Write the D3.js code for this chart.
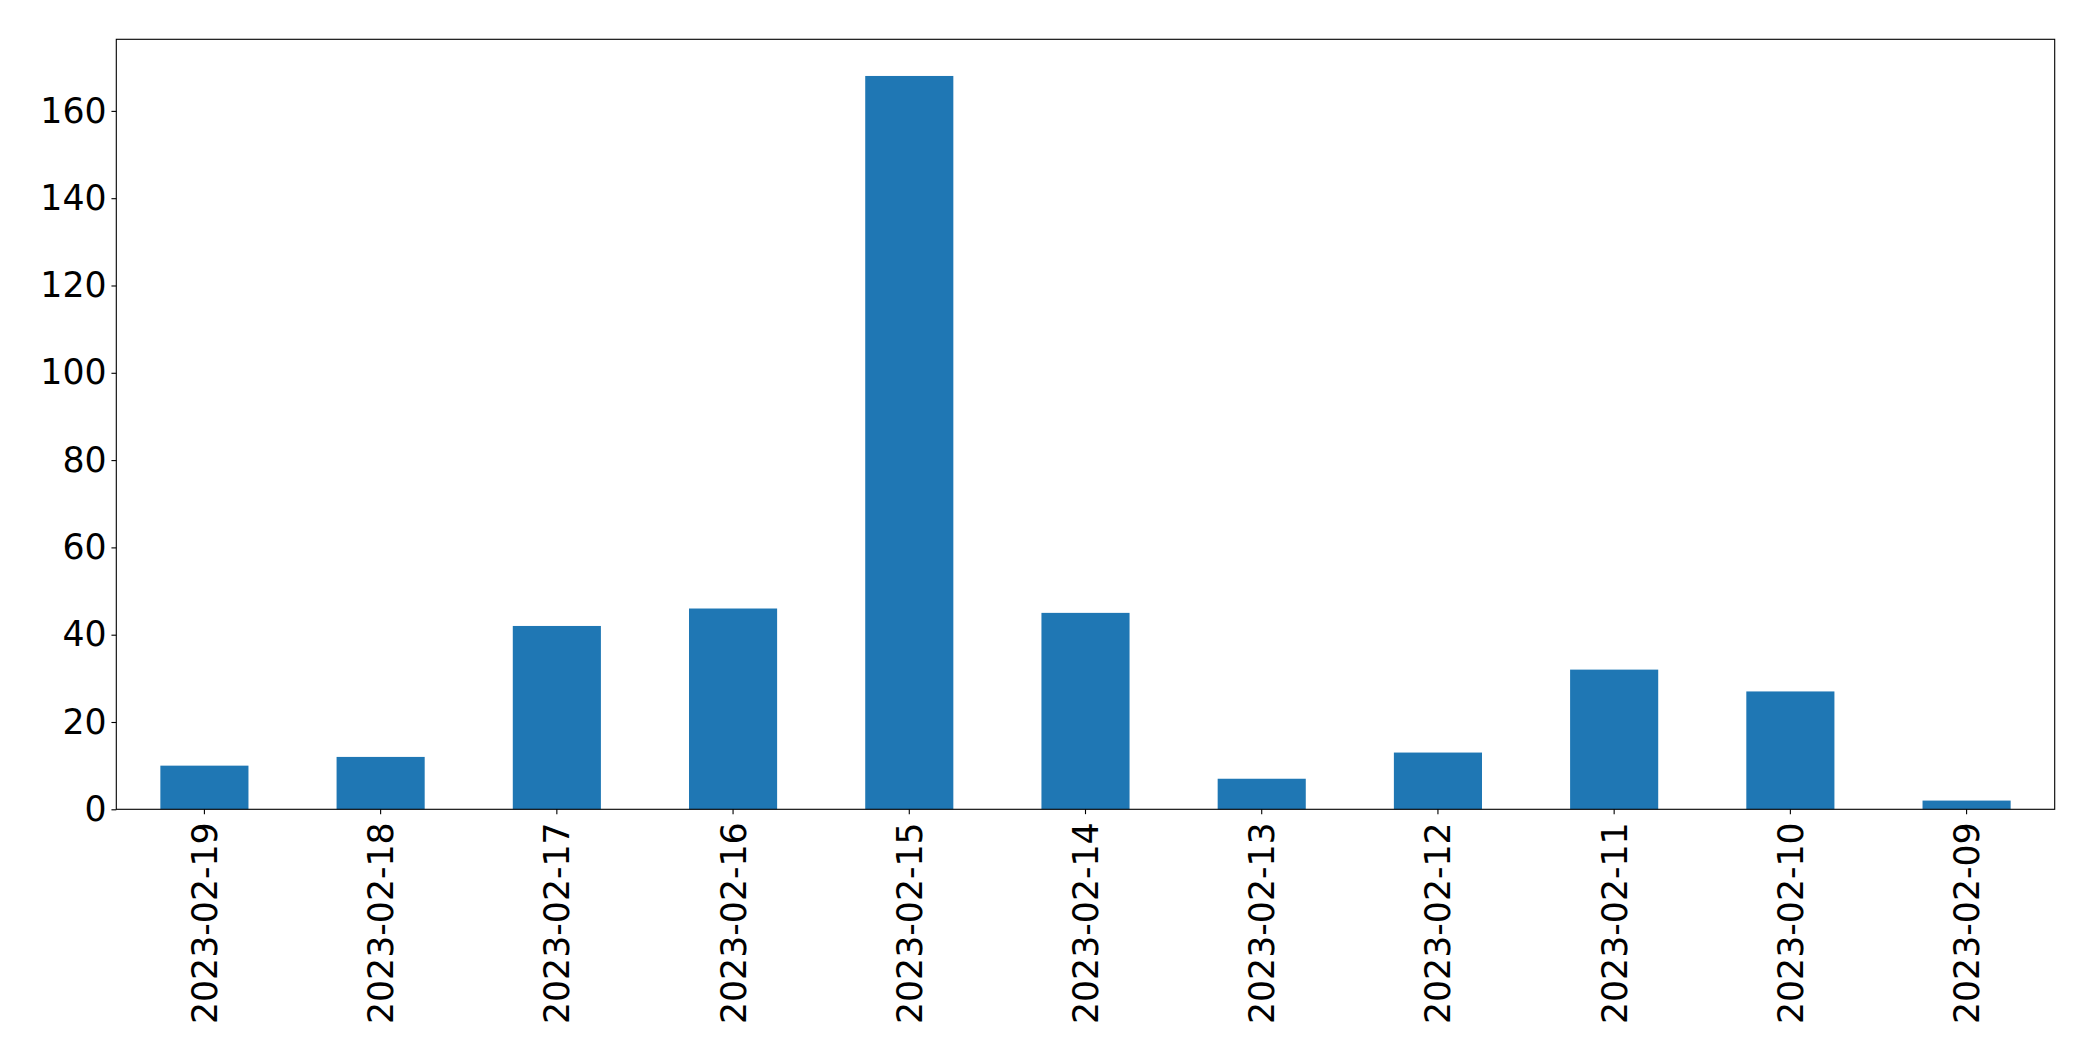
<!DOCTYPE html>
<html>
<head>
<meta charset="utf-8">
<script src="https://cdn.jsdelivr.net/npm/d3@7"></script>
<style>
  html, body { margin: 0; padding: 0; background: #fff; }
  svg { display: block; }
  text { font-family: "DejaVu Sans", sans-serif; fill: #000; }
</style>
</head>
<body>
<svg id="chart" width="2093" height="1061"></svg>
<script>
const categories = ["2023-02-19","2023-02-18","2023-02-17","2023-02-16","2023-02-15","2023-02-14","2023-02-13","2023-02-12","2023-02-11","2023-02-10","2023-02-09"];
const values = [10, 12, 42, 46, 168, 45, 7, 13, 32, 27, 2];
const yTicks = [0, 20, 40, 60, 80, 100, 120, 140, 160];

const margin = {left: 116.3, top: 39.3, right: 2093 - 2054.7, bottom: 1061 - 809.3};
const W = 2093, H = 1061;
const iw = W - margin.left - margin.right;
const ih = H - margin.top - margin.bottom;

const svg = d3.select("#chart");
const g = svg.append("g").attr("transform", `translate(${margin.left},${margin.top})`);

const x = d3.scaleBand().domain(categories).range([0, iw]).paddingInner(0.5).paddingOuter(0.25);
const yMax = d3.max(values) * 1.05;
const y = d3.scaleLinear().domain([0, yMax]).range([ih, 0]);

g.selectAll("rect.bar").data(values).join("rect")
  .attr("class", "bar")
  .attr("x", (d, i) => x(categories[i]))
  .attr("y", d => y(d))
  .attr("width", x.bandwidth())
  .attr("height", d => ih - y(d))
  .attr("fill", "#1f77b4");

// frame
g.append("rect").attr("x", 0).attr("y", 0).attr("width", iw).attr("height", ih)
  .attr("fill", "none").attr("stroke", "#000").attr("stroke-width", 1.11);

const fs = "34.72px";
const yAxis = g.append("g").call(d3.axisLeft(y).tickValues(yTicks).tickSize(4.86).tickPadding(4.86).tickFormat(d3.format("d")));
yAxis.select(".domain").remove();
yAxis.selectAll(".tick line").attr("stroke", "#000").attr("stroke-width", 1.11);
yAxis.selectAll(".tick text").attr("font-size", fs).attr("font-family", "DejaVu Sans").attr("fill", "#000");

const xAxis = g.append("g").attr("transform", `translate(0,${ih})`).call(d3.axisBottom(x).tickSize(4.86).tickPadding(0));
xAxis.select(".domain").remove();
xAxis.selectAll(".tick line").attr("stroke", "#000").attr("stroke-width", 1.11);
xAxis.selectAll(".tick text")
  .attr("font-size", fs).attr("font-family", "DejaVu Sans").attr("fill", "#000")
  .attr("transform", "translate(0,13) rotate(-90)")
  .attr("text-anchor", "end")
  .attr("x", 0).attr("y", 0).attr("dy", "0.36em");
</script>
</body>
</html>
